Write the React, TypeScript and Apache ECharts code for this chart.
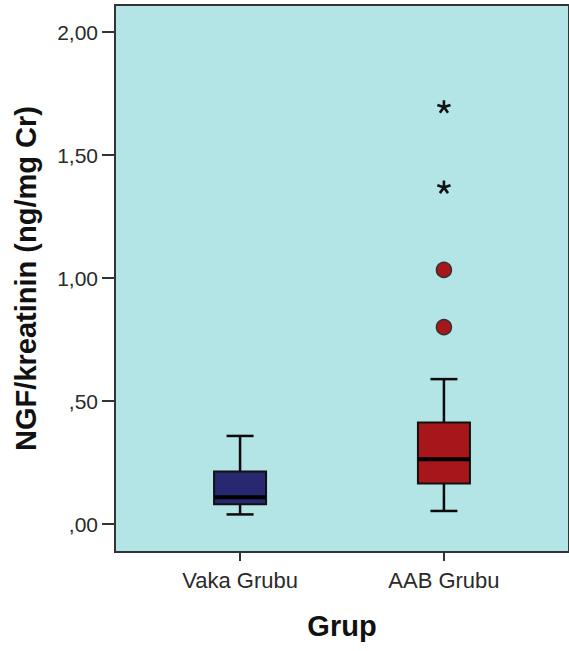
import React, { useEffect, useRef } from "react";
import * as echarts from "echarts";

// ---- data ----
const categories = ["Vaka Grubu", "AAB Grubu"];
const lowerWhisker = [0.039, 0.053];
const q1 = [0.08, 0.165];
const median = [0.109, 0.263];
const q3 = [0.213, 0.413];
const upperWhisker = [0.358, 0.589];
// outliers (category index, value)
const circleOutliers: [number, number][] = [
  [1, 0.8],
  [1, 1.033],
];
const extremeOutliers: [number, number][] = [
  [1, 1.369],
  [1, 1.696],
];
const yTickValues = [0, 0.5, 1, 1.5, 2];
const yTickLabels = [",00", ",50", "1,00", "1,50", "2,00"];

// ---- styles ----
const boxColors = ["#27286f", "#a6161a"];
const FONT = 'Arial, "Liberation Sans", sans-serif';

function asteriskPath(): string {
  const arms = 5;
  const w = 0.19;
  let d = "";
  for (let k = 0; k < arms; k++) {
    const a = -Math.PI / 2 + (k * 2 * Math.PI) / arms;
    const ux = Math.cos(a);
    const uy = Math.sin(a);
    const px = -uy * w;
    const py = ux * w;
    const f = (n: number) => n.toFixed(3);
    d += `M${f(px)} ${f(py)}L${f(ux + px)} ${f(uy + py)}L${f(ux - px)} ${f(uy - py)}L${f(-px)} ${f(-py)}Z`;
  }
  return "path://" + d;
}

export default function App() {
  const ref = useRef<HTMLDivElement>(null);
  useEffect(() => {
    if (!ref.current) return;
    const chart = echarts.init(ref.current, undefined, { renderer: "svg" });
    const boxData = categories.map((_, i) => [
      i,
      lowerWhisker[i],
      q1[i],
      median[i],
      q3[i],
      upperWhisker[i],
    ]);
    const xPad = 0.6135;
    chart.setOption({
      animation: false,
      backgroundColor: "#ffffff",
      grid: {
        left: 115,
        top: 5,
        width: 459,
        height: 547,
        show: true,
        backgroundColor: "#b4e5e6",
        borderColor: "#333333",
        borderWidth: 2,
      },
      xAxis: {
        type: "value",
        min: -xPad,
        max: 1 + xPad,
        splitLine: { show: false },
        axisLine: { show: false, onZero: false },
        axisTick: {
          show: true,
          customValues: [0, 1],
          length: 9,
          lineStyle: { color: "#333333", width: 2 },
        },
        axisLabel: {
          customValues: [0, 1],
          formatter: (v: number) => categories[Math.round(v)] ?? "",
          margin: 17,
          fontSize: 22,
          color: "#2a2a2a",
          fontFamily: FONT,
        },
        name: "Grup",
        nameLocation: "middle",
        nameGap: 59,
        nameTextStyle: {
          fontSize: 29,
          fontWeight: "bold",
          color: "#111111",
          fontFamily: FONT,
        },
      },
      yAxis: {
        type: "value",
        min: -0.1138,
        max: 2.1098,
        splitLine: { show: false },
        axisLine: { show: false, onZero: false },
        axisTick: {
          show: true,
          customValues: yTickValues,
          length: 13,
          lineStyle: { color: "#333333", width: 2 },
        },
        axisLabel: {
          customValues: yTickValues,
          formatter: (v: number) => {
            const i = yTickValues.findIndex((t) => Math.abs(t - v) < 1e-6);
            return i >= 0 ? yTickLabels[i] : "";
          },
          margin: 17,
          fontSize: 21,
          color: "#2a2a2a",
          fontFamily: FONT,
        },
        name: "NGF/kreatinin (ng/mg Cr)",
        nameLocation: "middle",
        nameGap: 75,
        nameTextStyle: {
          fontSize: 29,
          fontWeight: "bold",
          color: "#111111",
          fontFamily: FONT,
        },
      },
      series: [
        {
          type: "custom",
          data: boxData,
          encode: { x: 0, y: [1, 2, 3, 4, 5] },
          renderItem: (params: any, api: any) => {
            const x = api.value(0);
            const pLow = api.coord([x, api.value(1)]);
            const pQ1 = api.coord([x, api.value(2)]);
            const pMed = api.coord([x, api.value(3)]);
            const pQ3 = api.coord([x, api.value(4)]);
            const pHigh = api.coord([x, api.value(5)]);
            const cx = pMed[0];
            const hw = 26;
            const cw = 13.5;
            const lineStyle = { stroke: "#0a0a0a", lineWidth: 2.5 };
            return {
              type: "group",
              children: [
                { type: "line", shape: { x1: cx, y1: pHigh[1], x2: cx, y2: pQ3[1] }, style: lineStyle },
                { type: "line", shape: { x1: cx, y1: pQ1[1], x2: cx, y2: pLow[1] }, style: lineStyle },
                { type: "line", shape: { x1: cx - cw, y1: pHigh[1], x2: cx + cw, y2: pHigh[1] }, style: lineStyle },
                { type: "line", shape: { x1: cx - cw, y1: pLow[1], x2: cx + cw, y2: pLow[1] }, style: lineStyle },
                {
                  type: "rect",
                  shape: { x: cx - hw, y: pQ3[1], width: 2 * hw, height: pQ1[1] - pQ3[1] },
                  style: { fill: boxColors[params.dataIndex], stroke: "#111111", lineWidth: 2 },
                },
                {
                  type: "line",
                  shape: { x1: cx - hw, y1: pMed[1], x2: cx + hw, y2: pMed[1] },
                  style: { stroke: "#000000", lineWidth: 4 },
                },
              ],
            };
          },
          z: 3,
        },
        {
          type: "scatter",
          data: circleOutliers,
          symbol: "circle",
          symbolSize: 15,
          itemStyle: { color: boxColors[1], borderColor: "#333333", borderWidth: 1.5, opacity: 1 },
          z: 4,
        },
        {
          type: "scatter",
          data: extremeOutliers,
          symbol: asteriskPath(),
          symbolKeepAspect: true,
          symbolSize: 14,
          itemStyle: { color: "#111111", opacity: 1 },
          z: 4,
        },
      ],
    });
    return () => chart.dispose();
  }, []);
  return (
    <div
      ref={ref}
      style={{ position: "absolute", left: 0, top: 0, width: 569, height: 651 }}
    />
  );
}
